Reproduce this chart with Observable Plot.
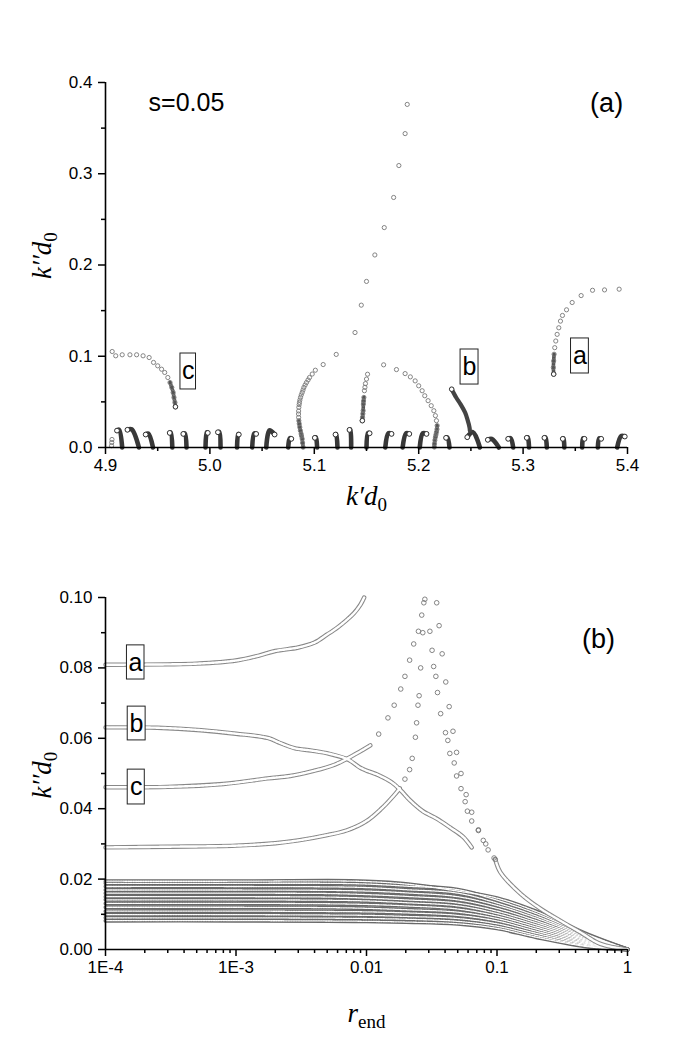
<!DOCTYPE html>
<html><head><meta charset="utf-8">
<script src="https://cdn.jsdelivr.net/npm/d3@7"></script>
<script src="https://cdn.jsdelivr.net/npm/@observablehq/plot@0.6"></script>
<style>body{margin:0;background:#fff;} svg{display:block;}</style>
</head><body><div id="pa"></div><div id="pb"></div>
<script>
// ---------------- Panel (a) data ----------------
const aXTicks = [4.9, 5.0, 5.1, 5.2, 5.3, 5.4];
const aXMinor = [4.95, 5.05, 5.15, 5.25, 5.35];
const aYTicks = [0, 0.1, 0.2, 0.3, 0.4];
const aYMinor = [0.05, 0.15, 0.25, 0.35];

// small "hook" branches along the axis: base (x,0), peak, end (white circle)
const hookBaseX = [4.916,4.932,4.9455,4.964,4.9776,4.9958,5.0102,5.026,5.0405,5.054,5.075,5.1027,5.1222,5.1353,5.150,5.168,5.1846,5.201,5.2295,5.2586,5.2768,5.2905,5.3057,5.3227,5.3395,5.3566,5.3716,5.3901];
const hookPeakX = [4.913,4.925,4.941,4.9625,4.976,4.997,5.009,5.027,5.0425,5.057,5.0765,5.1015,5.121,5.1345,5.1515,5.171,5.188,5.204,5.2275,5.252,5.270,5.288,5.3045,5.3215,5.3387,5.3575,5.373,5.394];
const hookPeakY = [0.0195,0.0199,0.0152,0.0165,0.0155,0.0166,0.0172,0.0148,0.0155,0.0187,0.0102,0.0111,0.0148,0.0198,0.0161,0.0156,0.0156,0.0156,0.0111,0.0168,0.0093,0.0101,0.0111,0.0111,0.0101,0.0101,0.0101,0.0126];
const hookEndX = [4.911,4.921,4.9385,4.9615,4.9745,4.998,5.0077,5.0277,5.0443,5.062,5.078,5.1005,5.1203,5.1337,5.153,5.174,5.191,5.2075,5.2262,5.2465,5.2662,5.2857,5.3035,5.3204,5.338,5.3588,5.3748,5.3974];
const hookEndY = [0.0185,0.0194,0.0142,0.016,0.0149,0.016,0.0167,0.0142,0.0149,0.0142,0.0095,0.0106,0.0142,0.0193,0.0156,0.0149,0.0149,0.0149,0.0106,0.0113,0.0084,0.0095,0.0106,0.0106,0.0095,0.0095,0.0095,0.012];

// large arch rising from 5.089 to the top
const archLX = [5.0893,5.0888,5.0884,5.0878,5.0874,5.0867,5.0861,5.0856,5.0852,5.085,5.0849,5.085,5.0852,5.0855,5.0858,5.0862,5.0868,5.0875,5.0884,5.0892,5.090,5.0912,5.0925,5.094,5.0954,5.098,5.101,5.1085,5.121,5.139,5.145,5.150,5.158,5.167,5.176,5.181,5.187,5.189];
const archLY = [0.0003,0.005,0.0095,0.0125,0.0149,0.0185,0.0222,0.026,0.0294,0.033,0.0367,0.040,0.044,0.047,0.0494,0.052,0.0549,0.0576,0.0603,0.063,0.0658,0.0685,0.0712,0.074,0.0767,0.0805,0.0847,0.0909,0.102,0.126,0.156,0.182,0.211,0.241,0.274,0.309,0.344,0.376];
// right arch
const archRX = [5.1664,5.1787,5.187,5.192,5.1966,5.200,5.2033,5.2058,5.209,5.212,5.2145,5.216,5.217,5.2177,5.2175,5.217,5.2165,5.216,5.2155,5.2151,5.215];
const archRY = [0.0906,0.0854,0.081,0.0774,0.073,0.0676,0.0622,0.0567,0.0513,0.0458,0.0403,0.0349,0.0294,0.024,0.020,0.0167,0.014,0.0113,0.008,0.004,0.0005];
// inner vertical branch
const innerX = [5.151,5.150,5.149,5.1485,5.148,5.1475,5.1472,5.147,5.1468,5.1465,5.1462,5.146];
const innerY = [0.0803,0.075,0.070,0.066,0.0622,0.0549,0.051,0.0476,0.0404,0.037,0.033,0.0294];
// branch a
const brAX = [5.392,5.378,5.3665,5.3556,5.347,5.3416,5.3377,5.3358,5.3342,5.3326,5.3313,5.3303,5.3297,5.3293,5.329,5.3293];
const brAY = [0.1735,0.1727,0.1723,0.1665,0.1589,0.1509,0.1447,0.1385,0.1312,0.124,0.1167,0.1094,0.1022,0.0949,0.0876,0.0804];
// branch c
const brCX = [4.9064,4.9098,4.916,4.9234,4.9298,4.936,4.9418,4.946,4.950,4.9537,4.9567,4.9597,4.9618,4.9635,4.9648,4.9656,4.9665,4.967];
const brCY = [0.1052,0.1005,0.1016,0.1016,0.1016,0.1005,0.0986,0.0932,0.0895,0.0858,0.0822,0.0767,0.0712,0.0658,0.0603,0.0548,0.0493,0.0446];
// branch b
const brBX = [5.2316,5.2359,5.240,5.2444,5.2466,5.2487,5.249];
const brBY = [0.0639,0.0548,0.0475,0.0384,0.031,0.0219,0.0185];
// isolated small circles at left edge
const edgeX = [4.9058,4.906,4.9062];
const edgeY = [0.002,0.0055,0.0088];

// ---------------- Panel (b) data ----------------
const bXTicks = [1e-4, 1e-3, 1e-2, 1e-1, 1];
const bXTickLabels = ["1E-4", "1E-3", "0.01", "0.1", "1"];
const bXMinor = [2e-4,3e-4,4e-4,5e-4,6e-4,7e-4,8e-4,9e-4,2e-3,3e-3,4e-3,5e-3,6e-3,7e-3,8e-3,9e-3,0.02,0.03,0.04,0.05,0.06,0.07,0.08,0.09,0.2,0.3,0.4,0.5,0.6,0.7,0.8,0.9];
const bYTicks = [0, 0.02, 0.04, 0.06, 0.08, 0.10];
const bYMinor = [0.01, 0.03, 0.05, 0.07, 0.09];

const curveAR = [1e-4,3e-4,5e-4,1e-3,1.5e-3,2e-3,3e-3,4e-3,5e-3,6e-3,7e-3,8e-3,9e-3,9.6e-3];
const curveAY = [0.0809,0.081,0.0812,0.0821,0.0835,0.0848,0.0858,0.0872,0.0895,0.0915,0.0935,0.0955,0.098,0.1];
const curveBR = [1e-4,2.5e-4,5.4e-4,1e-3,1.75e-3,2.2e-3,2.8e-3,3.8e-3,5.2e-3,7.2e-3,9.1e-3,0.0124,0.0156,0.0183,0.0214,0.027,0.034,0.0435,0.055,0.064];
const curveBY = [0.0631,0.063,0.0623,0.0613,0.0601,0.0586,0.0572,0.0565,0.0556,0.054,0.0515,0.0495,0.0475,0.0452,0.0425,0.0393,0.0373,0.0347,0.032,0.0290];
const curveCR = [1e-4,3e-4,8e-4,1.75e-3,2.6e-3,3.8e-3,5.7e-3,8.4e-3,0.0107];
const curveCY = [0.0461,0.0462,0.047,0.0486,0.0493,0.0506,0.0525,0.0557,0.058];
const curveDR = [1e-4,3e-4,1e-3,2e-3,3e-3,5e-3,7e-3,0.01,0.013,0.016,0.018];
const curveDY = [0.029,0.0292,0.0295,0.0302,0.031,0.0325,0.0338,0.0365,0.040,0.0435,0.0458];
// sparse rising continuations
const riseCR = [0.0124,0.0146,0.0163,0.0183,0.0197,0.0214,0.023,0.025,0.0265,0.028];
const riseCY = [0.0612,0.0658,0.0694,0.074,0.0776,0.0822,0.0868,0.0904,0.095,0.0995];
const riseDR = [0.0197,0.0214,0.0224,0.0237,0.0242,0.0248,0.0253,0.026,0.027,0.0275];
const riseDY = [0.0484,0.0511,0.0543,0.0603,0.0644,0.0694,0.0721,0.080,0.090,0.0985];
// sparse falling branches from the top
const fall1R = [0.0306,0.0318,0.0327,0.034,0.035,0.037,0.0403,0.042,0.0435,0.047,0.049,0.053,0.057,0.0593,0.064,0.072,0.0785,0.0855,0.097];
const fall1Y = [0.0904,0.085,0.0804,0.0776,0.073,0.067,0.0616,0.0594,0.0557,0.053,0.0493,0.0457,0.042,0.0393,0.0365,0.0338,0.031,0.0283,0.0256];
const fall2R = [0.0345,0.036,0.038,0.0405,0.043,0.046,0.049,0.053,0.058,0.064,0.072,0.082,0.095];
const fall2Y = [0.0985,0.092,0.084,0.076,0.069,0.062,0.056,0.050,0.044,0.039,0.034,0.030,0.026];
// dense tail where falling branches join
const tailR = [0.097,0.106,0.152,0.215,0.305,0.435,0.62,1];
const tailY = [0.0256,0.022,0.0158,0.0116,0.0082,0.0049,0.0016,0];

const bundleR = [1e-4, 1e-3, 5e-3, 0.01, 0.02, 0.05, 0.1, 0.2, 0.5, 1];
const bundle1  = [.0194,.0194,.0195,.0193,.0186,.0166,.0146,.0108,.0042,0];
const bundle2  = [.0188,.0188,.0188,.0186,.0180,.0170,.0140,.0102,.0040,0];
const bundle3  = [.0179,.0179,.0178,.0176,.0170,.0160,.0132,.0095,.0037,0];
const bundle4  = [.0169,.0169,.0168,.0166,.0161,.0150,.0125,.0089,.0034,0];
const bundle5  = [.0160,.0160,.0159,.0156,.0151,.0141,.0117,.0082,.0031,0];
const bundle6  = [.0150,.0150,.0149,.0146,.0141,.0132,.0109,.0076,.0028,0];
const bundle7  = [.0141,.0141,.0140,.0138,.0133,.0124,.0102,.0070,.0025,0];
const bundle8  = [.0131,.0131,.0130,.0128,.0124,.0115,.0095,.0064,.0022,0];
const bundle9  = [.0120,.0120,.0119,.0117,.0113,.0106,.0088,.0058,.0019,0];
const bundle10 = [.0109,.0109,.0108,.0107,.0104,.0097,.0081,.0052,.0016,0];
const bundle11 = [.0099,.0099,.0098,.0097,.0094,.0088,.0073,.0046,.0013,0];
const bundle12 = [.0090,.0090,.0089,.0088,.0086,.0080,.0066,.0040,.0010,0];
const bundle13 = [.0082,.0082,.0081,.0080,.0078,.0073,.0060,.0035,.0008,0];

// ---------------- helpers ----------------
const zipXY = (xs, ys, id) => xs.map((x, i) => ({x, y: ys[i], id}));
const FONT = "'Liberation Sans', Arial, sans-serif";
const SERIF = "'Liberation Serif', 'Times New Roman', serif";
const TICKFS = 17;

// ================= Panel (a) =================
const hookRows = [];
hookBaseX.forEach((b, i) => {
  hookRows.push({id: i, x: b, y: 0}, {id: i, x: hookPeakX[i], y: hookPeakY[i]}, {id: i, x: hookEndX[i], y: hookEndY[i]});
});
const hookEnds = hookEndX.map((x, i) => ({x, y: hookEndY[i]}));
const sparseA = [
  ...zipXY(archLX, archLY, "L"), ...zipXY(archRX, archRY, "R"), ...zipXY(innerX, innerY, "I"),
  ...zipXY(brAX, brAY, "a"), ...zipXY(brCX, brCY, "c"), ...zipXY(edgeX, edgeY, "e")
];
const denseA = [
  ...zipXY(brCX, brCY, "c").filter(d => d.y < 0.072),
  ...zipXY(brAX, brAY, "a").filter(d => d.y < 0.106),
  ...zipXY(innerX, innerY, "I").filter(d => d.y < 0.056),
  ...zipXY(archLX, archLY, "L").filter(d => d.y < 0.03),
  ...zipXY(archRX, archRY, "R").filter(d => d.y < 0.026)
];
const brB = zipXY(brBX, brBY, "b");
const branchEnds = [
  {x: brBX[0], y: brBY[0]}, {x: brCX[brCX.length-1], y: brCY[brCY.length-1]},
  {x: brAX[brAX.length-1], y: brAY[brAY.length-1]}, {x: innerX[innerX.length-1], y: innerY[innerY.length-1]}
];

const boxesA = [
  {x1: 4.9718, x2: 4.9867, y1: 0.0636, y2: 0.1030, t: "c", tx: 4.9792, ty: 0.0833},
  {x1: 5.2401, x2: 5.2573, y1: 0.0690, y2: 0.1074, t: "b", tx: 5.2487, ty: 0.0882},
  {x1: 5.3459, x2: 5.3630, y1: 0.0811, y2: 0.1195, t: "a", tx: 5.3544, ty: 0.1003}
];

const plotA = Plot.plot({
  width: 697, height: 530,
  marginLeft: 105, marginRight: 70, marginTop: 82, marginBottom: 83,
  style: {fontFamily: FONT, fontSize: "16px", background: "white", color: "black"},
  x: {domain: [4.9, 5.4]},
  y: {domain: [0, 0.4]},
  marks: [
    Plot.line(hookRows, {x: "x", y: "y", z: "id", stroke: "#383838", strokeWidth: 4.6, curve: "catmull-rom"}),
    Plot.line(denseA, {x: "x", y: "y", z: "id", stroke: "#555", strokeWidth: 3.6, curve: "catmull-rom"}),
    Plot.line(brB, {x: "x", y: "y", stroke: "#444", strokeWidth: 4.2, curve: "catmull-rom"}),
    Plot.dot(sparseA, {x: "x", y: "y", r: 2.1, stroke: "#777", strokeWidth: 0.9, fill: "none"}),
    Plot.dot(hookEnds, {x: "x", y: "y", r: 2.4, stroke: "#333", strokeWidth: 1, fill: "white"}),
    Plot.dot(branchEnds, {x: "x", y: "y", r: 2.3, stroke: "#333", strokeWidth: 1, fill: "white"}),
    Plot.ruleY([0], {stroke: "black", strokeWidth: 1.6}),
    Plot.ruleX([4.9], {stroke: "black", strokeWidth: 1.6}),
    Plot.axisX({ticks: aXTicks, tickSize: 7, tickPadding: 4, fontSize: TICKFS, tickFormat: d => d.toFixed(1), label: null, strokeWidth: 1.5}),
    Plot.axisX({ticks: aXMinor, tickSize: 4, tickFormat: () => "", label: null, strokeWidth: 1.5}),
    Plot.axisY({ticks: aYTicks, tickSize: 7, tickPadding: 6, fontSize: TICKFS, tickFormat: d => d.toFixed(1), label: null, strokeWidth: 1.5}),
    Plot.axisY({ticks: aYMinor, tickSize: 4, tickFormat: () => "", label: null, strokeWidth: 1.5}),
    Plot.rect(boxesA, {x1: "x1", x2: "x2", y1: "y1", y2: "y2", fill: "white", stroke: "#222", strokeWidth: 1}),
    Plot.text(boxesA, {x: "tx", y: "ty", text: "t", fontSize: 25, fill: "black"}),
    Plot.text([{x: 4.9775, y: 0.378, t: "s=0.05"}], {x: "x", y: "y", text: "t", fontSize: 25, fill: "black"}),
    Plot.text([{x: 5.38, y: 0.377, t: "(a)"}], {x: "x", y: "y", text: "t", fontSize: 27, fill: "black"}),
    Plot.text(["k′d0"], {frameAnchor: "bottom", dy: 57, fontSize: 27, fontFamily: SERIF, fill: "black", className: "xlabA"}),
    Plot.text(["k″d0"], {frameAnchor: "left", dx: -63, dy: 14, rotate: -90, fontSize: 27, fontFamily: SERIF, fill: "black", className: "ylabA"})
  ]
});

// ================= Panel (b) =================
const denseB = [
  ...zipXY(curveAR, curveAY, "A"), ...zipXY(curveBR, curveBY, "B"), ...zipXY(curveCR, curveCY, "C"),
  ...zipXY(curveDR, curveDY, "D"), ...zipXY(tailR, tailY, "T")
];
const bundles = [bundle1,bundle2,bundle3,bundle4,bundle5,bundle6,bundle7,bundle8,bundle9,bundle10,bundle11,bundle12,bundle13];
const bundleRows = [];
bundles.forEach((arr, k) => bundleRows.push(...zipXY(bundleR, arr, "L" + k)));
const sparseB = [
  ...zipXY(riseCR, riseCY, "rc"), ...zipXY(riseDR, riseDY, "rd"),
  ...zipXY(fall1R, fall1Y, "f1"), ...zipXY(fall2R, fall2Y, "f2")
];
const boxesB = [
  {x1: 1.46e-4, x2: 1.99e-4, y1: 0.0767, y2: 0.0864, t: "a", tx: 1.70e-4, ty: 0.0815},
  {x1: 1.48e-4, x2: 2.03e-4, y1: 0.0594, y2: 0.0690, t: "b", tx: 1.73e-4, ty: 0.0642},
  {x1: 1.48e-4, x2: 2.00e-4, y1: 0.0412, y2: 0.0511, t: "c", tx: 1.72e-4, ty: 0.0462}
];
const bLabel = d => bXTickLabels[bXTicks.findIndex(t => Math.abs(Math.log10(t) - Math.log10(d)) < 1e-6)];

const plotB = Plot.plot({
  width: 697, height: 515,
  marginLeft: 105, marginRight: 70, marginTop: 67, marginBottom: 96,
  style: {fontFamily: FONT, fontSize: "16px", background: "white", color: "black"},
  x: {type: "log", domain: [1e-4, 1]},
  y: {domain: [0, 0.1]},
  marks: [
    Plot.line(bundleRows, {x: "x", y: "y", z: "id", stroke: "#6a6a6a", strokeWidth: 4, curve: "catmull-rom"}),
    Plot.line(bundleRows, {x: "x", y: "y", z: "id", stroke: "white", strokeWidth: 1.3, strokeDasharray: "1.5 1", curve: "catmull-rom"}),
    Plot.line(denseB, {x: "x", y: "y", z: "id", stroke: "#888", strokeWidth: 4.4, curve: "catmull-rom"}),
    Plot.line(denseB, {x: "x", y: "y", z: "id", stroke: "white", strokeWidth: 2.4, strokeDasharray: "1.7 0.9", curve: "catmull-rom"}),
    Plot.dot(sparseB, {x: "x", y: "y", r: 2.3, stroke: "#777", strokeWidth: 0.9, fill: "none"}),
    Plot.ruleY([0], {stroke: "black", strokeWidth: 1.6}),
    Plot.ruleX([1e-4], {stroke: "black", strokeWidth: 1.6}),
    Plot.axisX({ticks: bXTicks, tickSize: 7, tickPadding: 4, fontSize: TICKFS, tickFormat: bLabel, label: null, strokeWidth: 1.5}),
    Plot.axisX({ticks: bXMinor, tickSize: 4, tickFormat: () => "", label: null, strokeWidth: 1.5}),
    Plot.axisY({ticks: bYTicks, tickSize: 7, tickPadding: 6, fontSize: TICKFS, tickFormat: d => d.toFixed(2), label: null, strokeWidth: 1.5}),
    Plot.axisY({ticks: bYMinor, tickSize: 4, tickFormat: () => "", label: null, strokeWidth: 1.5}),
    Plot.rect(boxesB, {x1: "x1", x2: "x2", y1: "y1", y2: "y2", fill: "white", stroke: "#222", strokeWidth: 1}),
    Plot.text(boxesB, {x: "tx", y: "ty", text: "t", fontSize: 25, fill: "black"}),
    Plot.text([{x: 0.6, y: 0.0881, t: "(b)"}], {x: "x", y: "y", text: "t", fontSize: 27, fill: "black"}),
    Plot.text(["rend"], {frameAnchor: "bottom", dy: 72, fontSize: 27, fontFamily: SERIF, fill: "black", className: "xlabB"}),
    Plot.text(["k″d0"], {frameAnchor: "left", dx: -63, dy: 25, rotate: -90, fontSize: 27, fontFamily: SERIF, fill: "black", className: "ylabB"})
  ]
});

document.getElementById("pa").appendChild(plotA);
document.getElementById("pb").appendChild(plotB);

// typeset labels with italic letters and subscripts
function setLabel(svg, cls, html) {
  d3.select(svg).selectAll("g." + cls + " text").html(html);
}
setLabel(plotA, "xlabA", '<tspan font-style="italic">k′d</tspan><tspan dy="6" font-size="19">0</tspan>');
setLabel(plotA, "ylabA", '<tspan font-style="italic">k′′d</tspan><tspan dy="6" font-size="19">0</tspan>');
setLabel(plotB, "ylabB", '<tspan font-style="italic">k′′d</tspan><tspan dy="6" font-size="19">0</tspan>');
setLabel(plotB, "xlabB", '<tspan font-style="italic">r</tspan><tspan dy="6" font-size="19">end</tspan>');
</script></body></html>
